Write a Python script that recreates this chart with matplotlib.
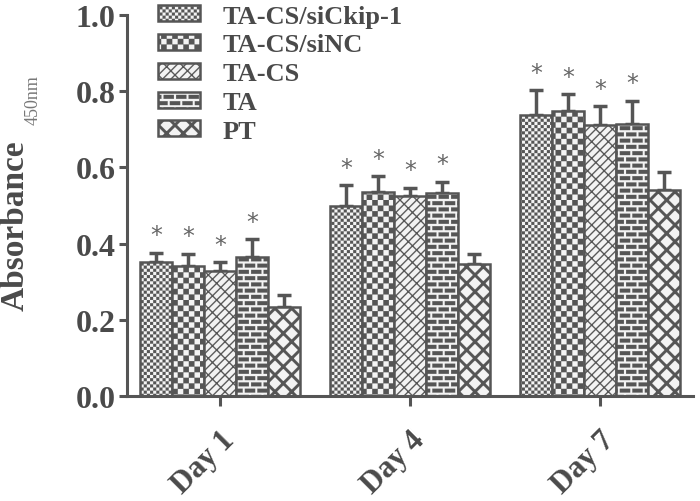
import numpy as np
import matplotlib
matplotlib.use('Agg')
import matplotlib.pyplot as plt
import matplotlib.hatch as mhatch
from matplotlib.path import Path

# --- data ---
days = ['Day 1', 'Day 4', 'Day 7']
groups = ['TA-CS/siCkip-1', 'TA-CS/siNC', 'TA-CS', 'TA', 'PT']

sickip = [0.353, 0.500, 0.737]
sinc = [0.342, 0.535, 0.748]
ta_cs = [0.329, 0.524, 0.711]
ta = [0.366, 0.534, 0.713]
pt = [0.235, 0.347, 0.540]

sickip_err = [0.023, 0.053, 0.066]
sinc_err = [0.031, 0.042, 0.044]
ta_cs_err = [0.022, 0.023, 0.050]
ta_err = [0.046, 0.029, 0.062]
pt_err = [0.031, 0.027, 0.047]

significant = [True, True, True, True, False]

GRAY = '#555555'
TXT = '#4a4a4a'
FACE = '#f3f3f3'


# --- custom fill patterns (filled polygons in the unit hatch cell) ---
def make_hatch(char, polys):
    verts, codes = [], []
    for p in polys:
        verts.extend(p)
        verts.append(p[0])
        codes.extend([Path.MOVETO] + [Path.LINETO] * (len(p) - 1) + [Path.CLOSEPOLY])
    verts = np.array(verts, float)
    codes = np.array(codes, Path.code_type)

    class Hatch(mhatch.HatchPatternBase):
        def __init__(self, hatch, density):
            self.num_vertices = len(verts) if char in hatch else 0

        def set_vertices_and_codes(self, vertices, codes_out):
            vertices[:] = verts
            codes_out[:] = codes
    return Hatch


def checker(n, frac=1.0):
    s = frac / n
    out = []
    for i in range(n):
        for j in range(n):
            if (i + j) % 2 == 0:
                x0 = (i + 0.5) / n - s / 2
                y0 = (j + 0.5) / n - s / 2
                out.append([(x0, y0), (x0 + s, y0), (x0 + s, y0 + s), (x0, y0 + s)])
    return out


def band(c, h, slope, x0=-0.15, x1=1.15):
    return [(x0, slope * x0 + c - h), (x1, slope * x1 + c - h),
            (x1, slope * x1 + c + h), (x0, slope * x0 + c + h)]


def diag_brick(n=12, p=12, t=0.012):
    h = t / np.sqrt(2)
    out = [band(k / n, h, 1) for k in range(-n - 2, n + 3)]
    nrm = np.array([1, 1]) / np.sqrt(2) * t / 2
    for k in range(-n - 2, n + 3):
        for m in range(-3, p + 3):
            s = m / p + (k % 2) / (2 * p)
            P = np.array([s, s + k / n])
            Q = P + np.array([-1, 1]) / (2 * n)
            out.append([tuple(P + nrm), tuple(Q + nrm), tuple(Q - nrm), tuple(P - nrm)])
    return out


def bricks(rows=16, per_row=8, hfrac=0.62, gap=0.022):
    out = []
    bh = hfrac / rows
    for r in range(rows):
        y0 = r / rows + (1 / rows - bh) / 2
        off = 0.5 / per_row if r % 2 else 0.0
        for m in range(-1, per_row + 1):
            x0 = m / per_row + off + gap / 2
            x1 = (m + 1) / per_row + off - gap / 2
            out.append([(x0, y0), (x1, y0), (x1, y0 + bh), (x0, y0 + bh)])
    return out


def lattice(n=6, t=0.028):
    h = t / np.sqrt(2)
    out = [band(k / n, h, 1) for k in range(-n - 1, n + 2)]
    out += [band(k / n, h, -1) for k in range(-1, 2 * n + 2)]
    return out


mhatch._hatch_types = [
    make_hatch('.', checker(32, 0.95)),
    make_hatch('o', checker(18)),
    make_hatch('/', diag_brick()),
    make_hatch('-', bricks()),
    make_hatch('x', lattice()),
]
patterns = ['.', 'o', '/', '-', 'x']

plt.rcParams['hatch.linewidth'] = 0.1
plt.rcParams['hatch.color'] = GRAY
plt.rcParams['font.family'] = ['Liberation Serif', 'DejaVu Serif']
plt.rcParams['font.weight'] = 'bold'
plt.rcParams['text.color'] = TXT

values = [sickip, sinc, ta_cs, ta, pt]
errors = [sickip_err, sinc_err, ta_cs_err, ta_err, pt_err]

fig = plt.figure(figsize=(7, 5.02), dpi=100)
ax = fig.add_axes([0.181, 0.209, 0.809, 0.759])

x = np.arange(len(days))
width = 0.168

for j, (vals, errs, pat) in enumerate(zip(values, errors, patterns)):
    pos = x + (j - 2) * width
    ax.bar(pos, vals, width, color=FACE, edgecolor=GRAY, linewidth=1.8,
           hatch=pat, zorder=2, label=groups[j])
    ax.errorbar(pos, vals, yerr=[np.zeros(len(vals)), errs], fmt='none',
                ecolor=GRAY, elinewidth=2.5, capsize=5, capthick=2.5, zorder=1)
    if significant[j]:
        for px, v, e in zip(pos, vals, errs):
            ax.annotate('*', xy=(px, v + e), xytext=(0, 4), textcoords='offset points',
                        ha='center', va='bottom', fontsize=17, fontweight='normal',
                        color='#666666', family='DejaVu Sans')

ax.set_ylim(0, 1.0)
ax.set_xlim(-0.49, 2.49)
ax.set_yticks(np.arange(0, 1.01, 0.2))
ax.set_yticklabels([f'{t:.1f}' for t in np.arange(0, 1.01, 0.2)])
ax.set_xticks(x)
ax.set_xticklabels(days, rotation=45, ha='right', rotation_mode='anchor')

for s in ['top', 'right']:
    ax.spines[s].set_visible(False)
for s in ['left', 'bottom']:
    ax.spines[s].set_color(GRAY)
    ax.spines[s].set_linewidth(2.2)
ax.tick_params(axis='y', length=6, width=2.2, color=GRAY, labelsize=23, pad=2,
               labelcolor=TXT)
ax.tick_params(axis='x', length=7, width=2.2, color=GRAY, labelsize=22, pad=14,
               labelcolor=TXT)

fig.text(0.021, 0.55, 'Absorbance', rotation=90, ha='center', va='center',
         fontsize=24, fontweight='bold', color=TXT)
fig.text(0.047, 0.80, '450nm', rotation=90, ha='center', va='center',
         fontsize=13, fontweight='normal', color='#777777')

ax.legend(loc='upper left', bbox_to_anchor=(0.21, 1.01), bbox_transform=fig.transFigure,
          frameon=False, fontsize=19, labelspacing=0.22, handlelength=1.6,
          handleheight=0.55, handletextpad=0.85, borderaxespad=0)

fig.savefig('out.png', dpi=100)
